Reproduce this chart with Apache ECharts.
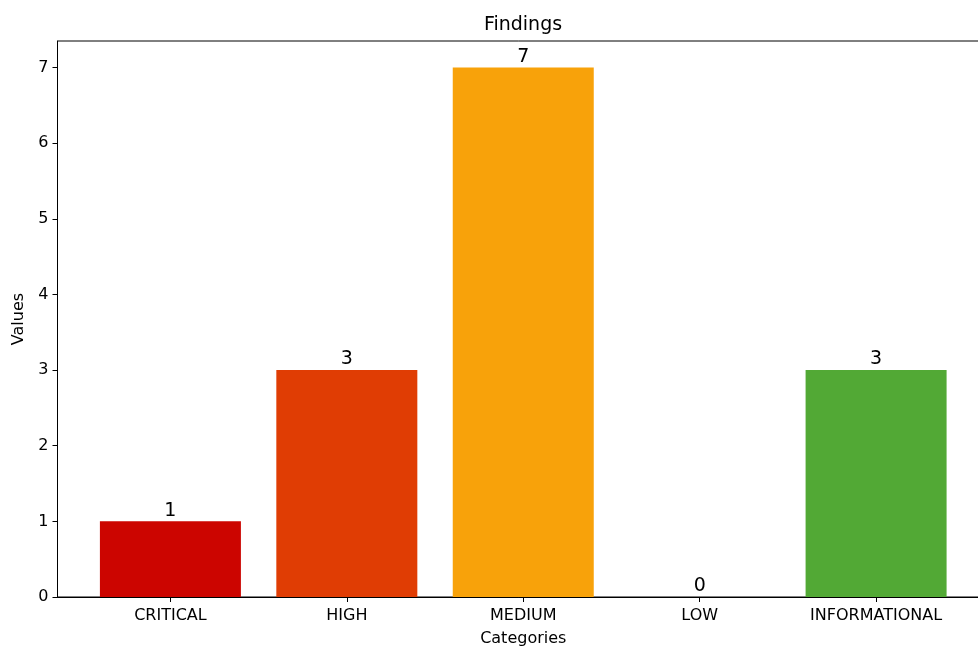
<!DOCTYPE html>
<html>
<head>
<meta charset="utf-8">
<script src="https://cdn.jsdelivr.net/npm/echarts@6/dist/echarts.min.js"></script>
<style>html,body{margin:0;padding:0;background:#fff}#c{width:978px;height:647px}</style>
</head>
<body>
<div id="c"></div>
<script>
const categories = ['CRITICAL', 'HIGH', 'MEDIUM', 'LOW', 'INFORMATIONAL'];
const values = [1, 3, 7, 0, 3];
const colors = ['#cc0500', '#e03d04', '#f8a20a', '#1f77b4', '#52a935'];
const yTicks = [0, 1, 2, 3, 4, 5, 6, 7];

const font = 'DejaVu Sans';
const chart = echarts.init(document.getElementById('c'), null, {renderer: 'canvas'});
const xIdx = categories.map((c, i) => i);
chart.setOption({
  animation: false,
  backgroundColor: '#fff',
  title: {
    text: 'Findings', left: 518, top: 11, textAlign: 'center',
    textStyle: {fontFamily: font, fontSize: 19, fontWeight: 'normal', color: '#000'}
  },
  grid: {
    left: 57.5, top: 41, width: 931.5, height: 556,
    outerBoundsMode: 'none', containLabel: false,
    show: true, borderColor: '#000', borderWidth: 1, backgroundColor: 'transparent'
  },
  xAxis: {
    type: 'value', min: -0.64, max: 4.64,
    name: 'Categories', nameLocation: 'middle', nameGap: 34,
    nameTextStyle: {fontFamily: font, fontSize: 16, color: '#000'},
    splitLine: {show: false},
    axisLine: {show: true, onZero: false, lineStyle: {color: '#000', width: 1}},
    axisTick: {show: true, customValues: xIdx, length: 5, lineStyle: {color: '#000'}},
    axisLabel: {
      customValues: xIdx, margin: 11,
      fontFamily: font, fontSize: 16, color: '#000',
      formatter: v => categories[Math.round(v)]
    }
  },
  yAxis: {
    type: 'value', min: 0, max: 7.35,
    name: 'Values', nameLocation: 'middle', nameGap: 31, nameRotate: 90,
    nameTextStyle: {fontFamily: font, fontSize: 16, color: '#000'},
    splitLine: {show: false},
    axisLine: {show: true, onZero: false, lineStyle: {color: '#000', width: 1}},
    axisTick: {show: true, customValues: yTicks, length: 5, lineStyle: {color: '#000'}},
    axisLabel: {customValues: yTicks, margin: 9, fontFamily: font, fontSize: 16, color: '#000'}
  },
  series: [{
    type: 'bar',
    barWidth: 141,
    data: values.map((v, i) => ({value: [i, v], itemStyle: {color: colors[i]}})),
    label: {
      show: true, position: 'top', distance: 1,
      fontFamily: font, fontSize: 19, color: '#000',
      formatter: p => String(p.value[1])
    }
  }]
});
</script>
</body>
</html>
